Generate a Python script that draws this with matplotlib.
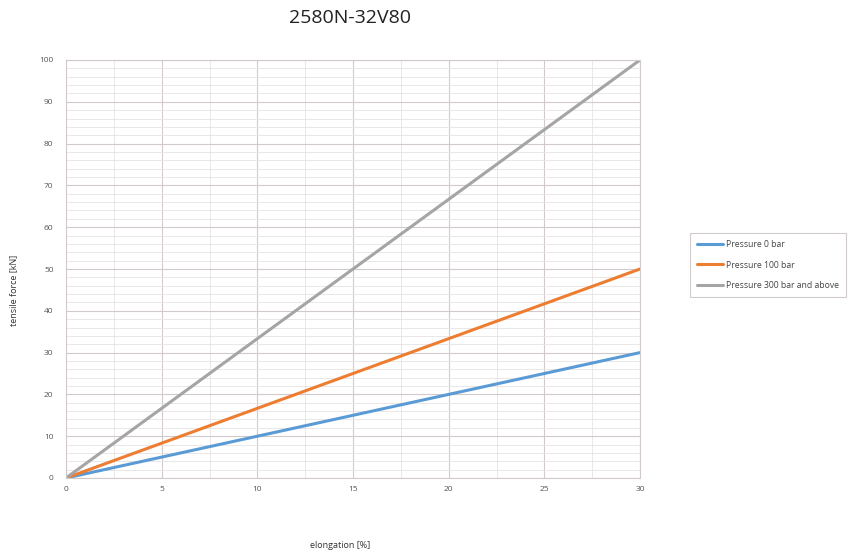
import matplotlib
matplotlib.use("Agg")
import matplotlib.pyplot as plt
import numpy as np
from matplotlib.ticker import MultipleLocator

elongation = [0, 30]
pressure_0 = [0, 30]
pressure_100 = [0, 50]
pressure_300 = [0, 100]
labels = ["Pressure 0 bar", "Pressure 100 bar", "Pressure 300 bar and above"]
colors = ["#5B9BD5", "#ED7D31", "#A5A5A5"]

plt.rcParams['font.family'] = ['Open Sans', 'DejaVu Sans']
fig = plt.figure(figsize=(8.52, 5.58), dpi=100)
ax = fig.add_axes([66/852, 1-478/558, (640-66)/852, (478-60)/558])

for ys, lab, c in zip([pressure_0, pressure_100, pressure_300], labels, colors):
    ax.plot(elongation, ys, color=c, lw=2.2, label=lab, solid_capstyle='round')

ax.set_xlim(0, 30)
ax.set_ylim(0, 100)
ax.xaxis.set_major_locator(MultipleLocator(5))
ax.xaxis.set_minor_locator(MultipleLocator(2.5))
ax.yaxis.set_major_locator(MultipleLocator(10))
ax.yaxis.set_minor_locator(MultipleLocator(2))
ax.grid(which='major', color='#d2caca', lw=0.8)
ax.grid(which='minor', color='#e8e3e3', lw=0.6)
ax.set_axisbelow(True)
for s in ax.spines.values():
    s.set_color('#d2caca')
    s.set_linewidth(0.8)
ax.tick_params(which='both', length=0, labelsize=6, colors='#555555', pad=6)
ax.tick_params(axis='y', pad=9)

fig.text(350/852, 1-18/558, "2580N-32V80", ha='center', va='center', fontsize=14, color='#222222')
fig.text(14/852, 1-290/558, "tensile force [kN]", rotation=90, ha='center', va='center', fontsize=6.5, color='#333333')
fig.text(340/852, 1-545/558, "elongation [%]", ha='center', va='center', fontsize=6.5, color='#333333')

leg = fig.legend(loc='center left', bbox_to_anchor=(686/852, 1-265/558), fontsize=6.2,
                 frameon=True, fancybox=False, edgecolor='#c8c0c0', handlelength=3,
                 handletextpad=0.3, labelspacing=1.3, borderpad=0.8, labelcolor='#444444')
leg.get_frame().set_linewidth(0.8)

fig.savefig("out.png", dpi=100)
